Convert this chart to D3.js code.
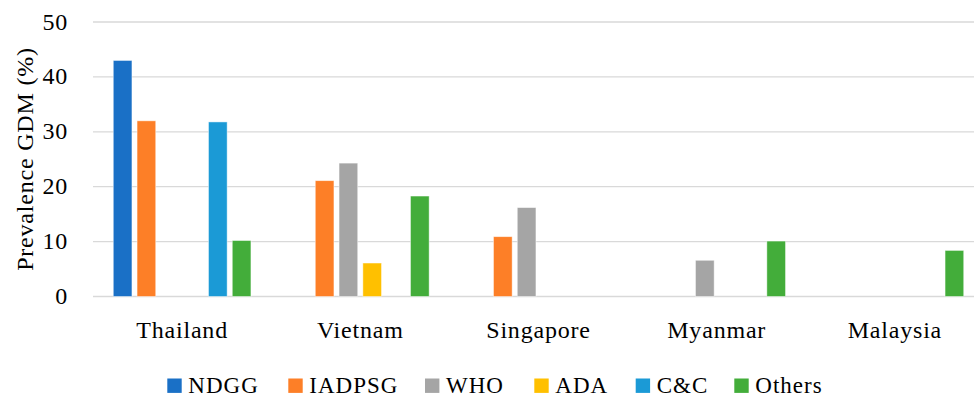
<!DOCTYPE html>
<html>
<head>
<meta charset="utf-8">
<script src="https://cdn.jsdelivr.net/npm/d3@7"></script>
<style>
  html, body { margin: 0; padding: 0; background: #fff; }
  svg { display: block; }
  text { font-family: "Liberation Serif", "DejaVu Serif", serif; fill: #000; }
</style>
</head>
<body>
<div id="chart"></div>
<script>
// Countries along the x axis
const countries = ["Thailand", "Vietnam", "Singapore", "Myanmar", "Malaysia"];

// Diagnostic criteria (one bar per criterion in each country group)
const seriesNames = ["NDGG", "IADPSG", "WHO", "ADA", "C&C", "Others"];
const seriesColors = ["#1a70c6", "#fd7f27", "#a5a5a5", "#ffc000", "#1b9ad6", "#43ad3a"];

// GDM prevalence (%) per criterion, in country order; null = not reported
const ndgg   = [43.0, null, null, null, null];
const iadpsg = [32.0, 21.1, 10.9, null, null];
const who    = [null, 24.3, 16.2, 6.6, null];
const ada    = [null, 6.1, null, null, null];
const cc     = [31.8, null, null, null, null];
const others = [10.2, 18.3, null, 10.1, 8.4];

const yTicks = [0, 10, 20, 30, 40, 50];
const yTitle = "Prevalence GDM (%)";

const seriesValues = [ndgg, iadpsg, who, ada, cc, others];

const W = 974, H = 398;
const FONT = 24, SPACING = 0.8;
const svg = d3.select("#chart").append("svg").attr("width", W).attr("height", H);

const y = d3.scaleLinear().domain([0, 50]).range([296.5, 22]);
const x0 = d3.scaleBand().domain(countries).range([93, 984]).padding(0);
const x1 = d3.scaleBand().domain(seriesNames)
  .range([20.25, x0.bandwidth() - 20.25])
  .paddingInner(0.214).paddingOuter(0);

// Horizontal gridlines
svg.append("g").selectAll("line").data(yTicks).join("line")
  .attr("x1", 93).attr("x2", W)
  .attr("y1", d => y(d)).attr("y2", d => y(d))
  .attr("stroke", "#d9d9d9").attr("stroke-width", 1.3);

// Y axis tick labels
svg.append("g").selectAll("text").data(yTicks).join("text")
  .attr("x", 68).attr("y", d => y(d) + 7.5)
  .attr("text-anchor", "end")
  .attr("font-size", FONT).attr("letter-spacing", SPACING)
  .text(d => d);

// Y axis title
svg.append("text")
  .attr("transform", "translate(33,159) rotate(-90)")
  .attr("text-anchor", "middle")
  .attr("font-size", FONT).attr("letter-spacing", SPACING)
  .text(yTitle);

// Bars
const rows = [];
countries.forEach((c, ci) => {
  seriesNames.forEach((s, si) => {
    const v = seriesValues[si][ci];
    if (v != null) rows.push({ country: c, series: s, color: seriesColors[si], value: v });
  });
});

svg.append("g").selectAll("rect").data(rows).join("rect")
  .attr("x", d => x0(d.country) + x1(d.series))
  .attr("width", x1.bandwidth())
  .attr("y", d => y(d.value))
  .attr("height", d => y(0) - y(d.value))
  .attr("fill", d => d.color)
  .attr("stroke", "#ffffff").attr("stroke-opacity", 0.6).attr("stroke-width", 0.8);

// Category labels
svg.append("g").selectAll("text").data(countries).join("text")
  .attr("x", d => x0(d) + x0.bandwidth() / 2)
  .attr("y", 338)
  .attr("text-anchor", "middle")
  .attr("font-size", FONT).attr("letter-spacing", SPACING)
  .text(d => d);

// Legend along the bottom edge
const legendX = [167.3, 288.3, 425, 534.3, 635.7, 734.3];
const lg = svg.append("g").selectAll("g").data(seriesNames).join("g")
  .attr("transform", (d, i) => `translate(${legendX[i]},0)`);
lg.append("rect")
  .attr("x", 0).attr("y", 378.5).attr("width", 14.4).attr("height", 14.4)
  .attr("fill", (d, i) => seriesColors[i]);
lg.append("text")
  .attr("x", 21).attr("y", 392.5)
  .attr("font-size", 23).attr("letter-spacing", 1)
  .text(d => d);
</script>
</body>
</html>
